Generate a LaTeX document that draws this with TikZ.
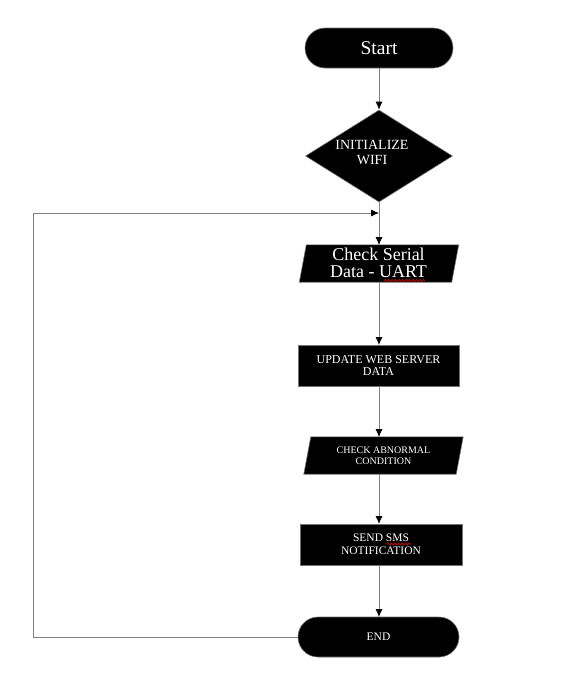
\documentclass[tikz,border=0pt]{standalone}
\usepackage{fontspec}
\setmainfont{Liberation Serif}
\usetikzlibrary{shapes.geometric,arrows.meta,decorations.pathmorphing}
\begin{document}
\begin{tikzpicture}[x=1pt,y=-1pt,
  blk/.style={fill=black,draw=black!55,line width=0.6pt,text=white,align=center,inner sep=0pt},
  term/.style={blk,rectangle,rounded corners=20pt},
  proc/.style={blk,rectangle},
  para/.style={text=white,align=center,inner sep=0pt,rectangle},
  dec/.style={blk,diamond,aspect=1.6},
  conn/.style={draw=black!50,line width=0.8pt,-{Latex[length=8pt,width=7pt,color=black]}},
  line/.style={draw=black!50,line width=0.8pt},
  squig/.style={draw=red!85!black,line width=0.7pt,decorate,decoration={snake,amplitude=1pt,segment length=3.5pt}}]
\useasboundingbox (0,0) rectangle (566,696);
\node[term,minimum width=148pt,minimum height=40pt,font=\fontsize{19.5}{20}\selectfont] (start) at (379,48) {Start};
\node[dec,minimum width=147pt,minimum height=92pt] (init) at (379,156) {};
\node[text=white,align=center,inner sep=0pt,font=\fontsize{14}{15}\selectfont] (inittxt) at (372,152) {INITIALIZE\\WIFI};
\node[para,minimum width=152pt,minimum height=37pt] (serial) at (378.5,263.5) {};
\fill[black] ([xshift=4pt]serial.north west) -- ([xshift=4pt]serial.north east) -- ([xshift=-3pt]serial.south east) -- ([xshift=-3pt]serial.south west) -- cycle;
\draw[black!55,line width=0.6pt] ([xshift=4pt]serial.north west) -- ([xshift=4pt]serial.north east) -- ([xshift=-3pt]serial.south east) -- ([xshift=-3pt]serial.south west) -- cycle;
\node[text=white,align=center,inner sep=0pt,font=\fontsize{18}{17}\selectfont] (serialtxt) at (378.5,263) {Check Serial\\Data - UART};
\node[proc,minimum width=161pt,minimum height=41pt,font=\fontsize{12}{11.5}\selectfont] (web) at (378.5,365.5) {UPDATE WEB SERVER\\DATA};
\node[para,minimum width=152pt,minimum height=37pt] (abn) at (383.5,455.5) {};
\fill[black] ([xshift=3.5pt]abn.north west) -- ([xshift=3.5pt]abn.north east) -- ([xshift=-3.5pt]abn.south east) -- ([xshift=-3.5pt]abn.south west) -- cycle;
\draw[black!55,line width=0.6pt] ([xshift=3.5pt]abn.north west) -- ([xshift=3.5pt]abn.north east) -- ([xshift=-3.5pt]abn.south east) -- ([xshift=-3.5pt]abn.south west) -- cycle;
\node[text=white,align=center,inner sep=0pt,font=\fontsize{10}{11}\selectfont] (abntxt) at (383.5,455.5) {CHECK ABNORMAL\\CONDITION};
\node[proc,minimum width=162pt,minimum height=41pt,font=\fontsize{11.5}{13}\selectfont] (sms) at (381,544.5) {SEND SMS\\NOTIFICATION};
\node[term,minimum width=161pt,minimum height=40pt,font=\fontsize{11.5}{12}\selectfont] (end) at (378.5,637) {END};
\coordinate (join) at (379,213);
\coordinate (c1) at (33,637);
\coordinate (c2) at (33,213);
\draw[conn] (start.south) -- (init.north);
\draw[line] (init.south) -- (join);
\draw[conn] (join) -- (379,245);
\draw[conn] (379,282) -- (379,345);
\draw[conn] (379,386) -- (379,437);
\draw[conn] (379,474) -- (379,524);
\draw[conn] (379,565) -- (379,617);
\draw[conn] (end.west) -- (c1) -- (c2) -- (join);
\draw[squig] (384,280.5) -- (425,280.5);
\draw[squig] (387,544) -- (411,544);
\end{tikzpicture}
\end{document}
